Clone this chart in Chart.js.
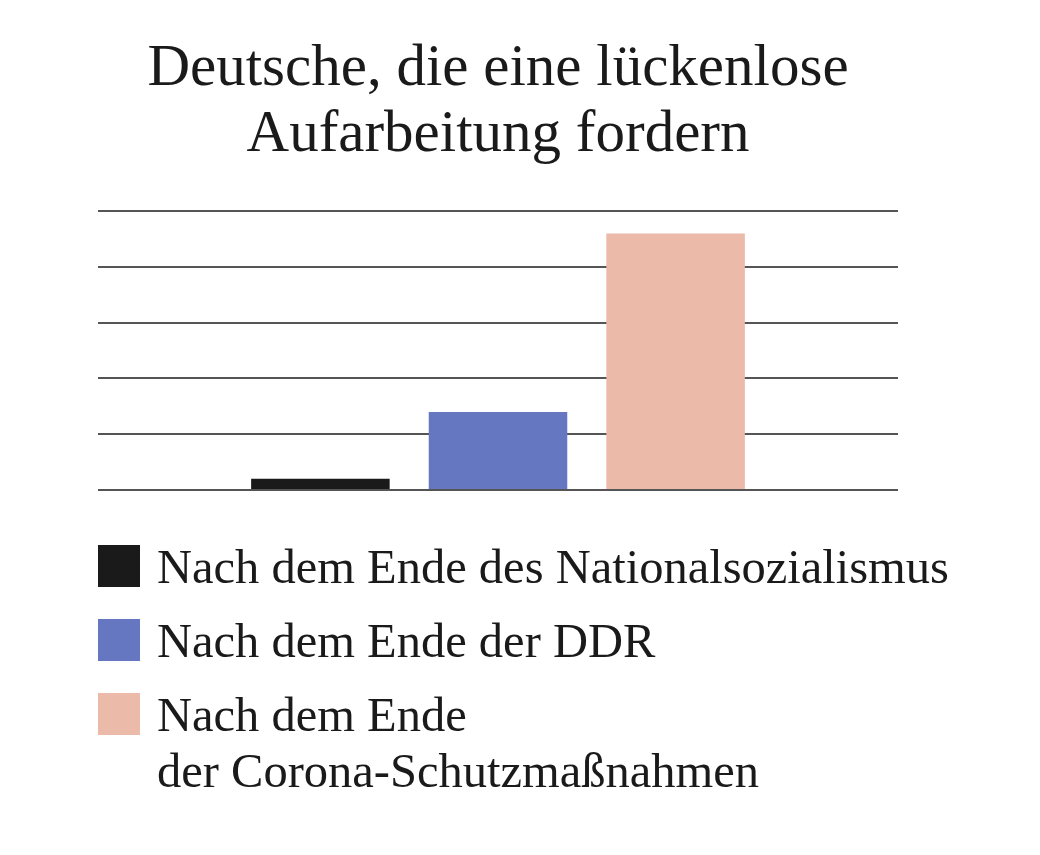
<!DOCTYPE html>
<html lang="de">
<head>
<meta charset="utf-8">
<title>Deutsche, die eine lückenlose Aufarbeitung fordern</title>
<script src="https://cdn.jsdelivr.net/npm/chart.js@4"></script>
<style>
  html, body { margin: 0; padding: 0; background: #fff; }
  #wrap { position: relative; width: 1040px; height: 855px; }
  #grafico { position: absolute; left: 0; top: 0; }
  #legende {
    position: absolute; left: 98px; top: 539px;
    font-family: "Liberation Serif", "DejaVu Serif", serif;
    font-size: 48.5px; color: #1a1a1a; line-height: 56px;
  }
  .item { display: flex; align-items: flex-start; margin-bottom: 18px; }
  .box { width: 42px; height: 42px; flex: none; margin-right: 17px; margin-top: 6px; }
</style>
</head>
<body>
<div id="wrap">
  <canvas id="grafico" width="1040" height="855"></canvas>
  <div id="legende"></div>
</div>
<script>
// Titel und Daten
const titel = ['Deutsche, die eine lückenlose', 'Aufarbeitung fordern'];
const reihen = [
  ['Nach dem Ende des Nationalsozialismus'],
  ['Nach dem Ende der DDR'],
  ['Nach dem Ende', 'der Corona-Schutzmaßnahmen']
];
const werte = [2, 14, 46];
const farben = ['#1a1a1a', '#6677c2', '#ecbaa8'];
const skalaMax = 50;
const skalaSchritt = 10;

// Legende als HTML bauen
const legende = document.getElementById('legende');
reihen.forEach((zeilen, i) => {
  const item = document.createElement('div');
  item.className = 'item';
  const box = document.createElement('div');
  box.className = 'box';
  box.style.background = farben[i];
  const txt = document.createElement('div');
  txt.innerHTML = zeilen.join('<br>');
  item.appendChild(box);
  item.appendChild(txt);
  legende.appendChild(item);
});

// Diagramm: eine Kategorie, drei Datensätze
const ctx = document.getElementById('grafico').getContext('2d');
new Chart(ctx, {
  type: 'bar',
  data: {
    labels: [''],
    datasets: reihen.map((zeilen, i) => ({
      label: zeilen.join(' '),
      data: [werte[i]],
      backgroundColor: farben[i],
      borderWidth: 0
    }))
  },
  options: {
    responsive: false,
    animation: false,
    categoryPercentage: 0.666,
    barPercentage: 0.78,
    layout: { padding: { left: 98, right: 142, top: 0, bottom: 365 } },
    plugins: {
      legend: { display: false },
      tooltip: { enabled: false },
      title: {
        display: true,
        text: titel,
        color: '#1a1a1a',
        font: { family: '"Liberation Serif", serif', size: 59, weight: 'normal', lineHeight: 1.12 },
        padding: { top: 36, bottom: 43 }
      }
    },
    scales: {
      x: { display: false },
      y: {
        min: 0,
        max: skalaMax,
        ticks: { display: false, stepSize: skalaSchritt },
        border: { display: false },
        grid: { color: '#555', lineWidth: 2, drawTicks: false }
      }
    }
  }
});
</script>
</body>
</html>
